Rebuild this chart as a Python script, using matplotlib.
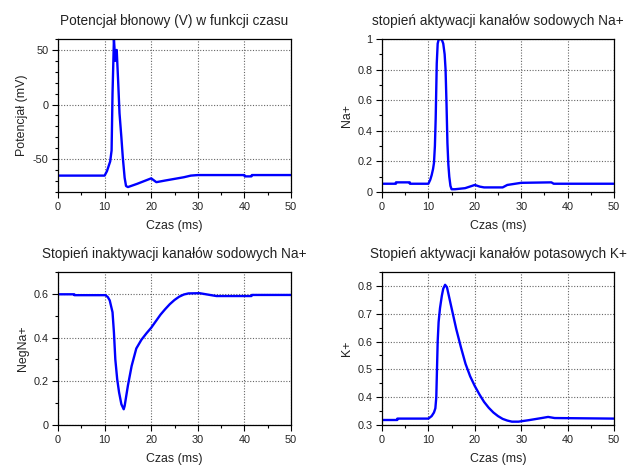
import matplotlib
matplotlib.use("Agg")
import matplotlib.pyplot as plt
from matplotlib.ticker import MultipleLocator, FormatStrFormatter

plt.rcParams['font.family'] = ['Liberation Sans', 'DejaVu Sans']
plt.rcParams['axes.unicode_minus'] = False

# ---- data ----
t_v = [0, 10, 10.5, 11.2, 11.5, 11.7, 12.0, 12.3, 12.6, 12.9, 13.2, 13.6, 13.9, 14.3, 14.6, 15.0,
       17, 20, 21.1, 23, 25, 27, 28.5, 30, 40, 40.1, 41.5, 41.6, 50]
v = [-65, -65, -61, -52, -42, 10, 60, 40, 50, 22, -8, -30, -48, -67, -74.5, -75.5,
     -72.5, -67.5, -71, -69.5, -68, -66.5, -65, -64.5, -64.5, -65.7, -65.7, -64.5, -64.5]

t_m = [0, 3, 3.01, 6, 6.01, 10, 10.4, 10.7, 11.0, 11.2, 11.4, 11.57, 11.8, 12.0, 12.2, 12.5, 12.9,
       13.2, 13.5, 13.7, 13.9, 14.1, 14.3, 14.5, 14.75, 15.0, 15.7, 17.9, 20, 21.1, 22, 26, 27, 30,
       36.5, 37, 50]
m = [0.054, 0.054, 0.063, 0.063, 0.054, 0.054, 0.08, 0.11, 0.15, 0.19, 0.30, 0.48, 0.84, 0.97, 0.995,
     1.0, 0.995, 0.97, 0.90, 0.80, 0.58, 0.32, 0.18, 0.10, 0.04, 0.018, 0.018, 0.025, 0.046, 0.035,
     0.03, 0.03, 0.046, 0.06, 0.063, 0.054, 0.054]

t_h = [0, 3.5, 3.51, 10.2, 10.7, 11.1, 11.7, 12.0, 12.3, 12.7, 13.1, 13.6, 14.1, 14.3, 15.0, 15.8,
       16.8, 17.9, 19, 20, 21, 22, 23, 24, 25, 26, 27, 28, 30.4, 32.6, 34, 41.5, 41.6, 50]
h = [0.598, 0.598, 0.594, 0.594, 0.585, 0.57, 0.516, 0.424, 0.30, 0.21, 0.15, 0.095, 0.072, 0.087,
     0.18, 0.27, 0.35, 0.39, 0.42, 0.445, 0.475, 0.505, 0.53, 0.553, 0.572, 0.587, 0.597, 0.602,
     0.603, 0.595, 0.59, 0.59, 0.595, 0.595]

t_n = [0, 3.3, 3.31, 10, 10.7, 11.2, 11.5, 11.7, 11.85, 12.0, 12.2, 12.5, 12.9, 13.2, 13.6, 14.0,
       15, 16, 17, 18, 19, 20, 21, 22, 23, 24, 25, 26, 27, 28, 29.4, 31.5, 34.4, 35.8, 37.2, 50]
n = [0.318, 0.318, 0.323, 0.323, 0.332, 0.345, 0.36, 0.40, 0.50, 0.60, 0.67, 0.72, 0.765, 0.79,
     0.804, 0.795, 0.72, 0.645, 0.58, 0.52, 0.475, 0.44, 0.41, 0.383, 0.362, 0.345, 0.332, 0.322,
     0.316, 0.312, 0.312, 0.317, 0.325, 0.329, 0.325, 0.323]

titles = ["Potencjał błonowy (V) w funkcji czasu",
          "stopień aktywacji kanałów sodowych Na+",
          "Stopień inaktywacji kanałów sodowych Na+",
          "Stopień aktywacji kanałów potasowych K+"]
ylabels = ["Potencjał (mV)", "Na+", "NegNa+", "K+"]
xlabel = "Czas (ms)"

W, H = 630, 466
fig = plt.figure(figsize=(W / 100, H / 100), dpi=100)

def rect(l, r, t, b):
    return [l / W, 1 - b / H, (r - l) / W, (b - t) / H]

specs = [
    (rect(58, 291, 39, 192), t_v, v, (-80, 60), 50, 10),
    (rect(382, 614, 39, 192), t_m, m, (0, 1), 0.2, 0.1),
    (rect(58, 291, 272, 425), t_h, h, (0, 0.7), 0.2, 0.1),
    (rect(382, 614, 272, 425), t_n, n, (0.3, 0.85), 0.1, 0.05),
]

for i, (r, tx, ys, ylim, ymaj, ymin) in enumerate(specs):
    ax = fig.add_axes(r)
    ax.plot(tx, ys, color='#0000ff', lw=1.7)
    ax.set_xlim(0, 50)
    ax.set_ylim(*ylim)
    ax.xaxis.set_major_locator(MultipleLocator(10))
    ax.xaxis.set_minor_locator(MultipleLocator(5))
    ax.yaxis.set_major_locator(MultipleLocator(ymaj))
    ax.yaxis.set_minor_locator(MultipleLocator(ymin))
    ax.xaxis.set_major_formatter(FormatStrFormatter('%g'))
    ax.yaxis.set_major_formatter(FormatStrFormatter('%g'))
    ax.grid(True, which='major', color='0.4', linestyle=(0, (1, 1.5)), linewidth=0.8)
    ax.tick_params(which='major', direction='out', length=4, width=0.8, labelsize=7.8, pad=3,
                   labelcolor='#222222')
    ax.tick_params(which='minor', direction='out', length=2, width=0.8)
    for s in ax.spines.values():
        s.set_linewidth(0.9)
    ax.set_title(titles[i], fontsize=9.8, pad=10, color='#222222')
    ax.set_xlabel(xlabel, fontsize=8.9, labelpad=6, color='#222222')
    ax.set_ylabel(ylabels[i], fontsize=8.9, labelpad=3, color='#222222')

fig.savefig("out.png", dpi=100)
